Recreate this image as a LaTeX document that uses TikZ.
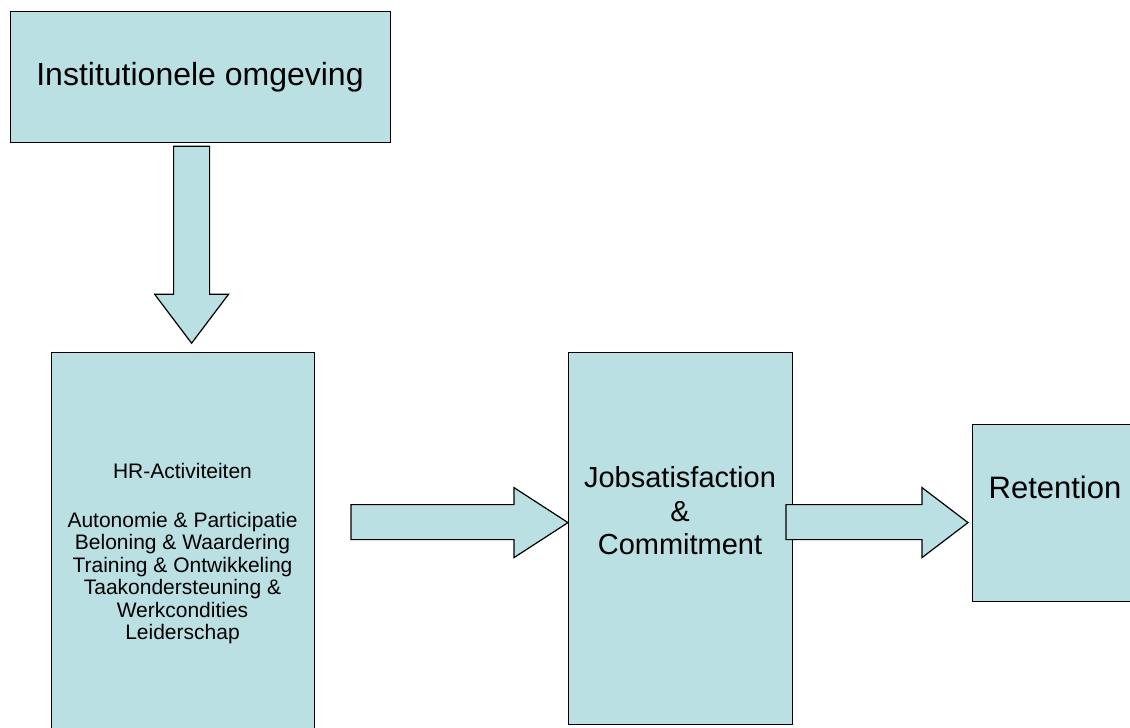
\documentclass[tikz,border=0pt]{standalone}
\usepackage{fontspec}
\setmainfont{Liberation Sans}
\definecolor{boxfill}{RGB}{186,224,227}
\begin{document}
\begin{tikzpicture}[x=1pt,y=-1pt,
  box/.style={draw=black, fill=boxfill, line width=1.2pt, inner sep=0pt, anchor=north west},
  blockarrow/.style={draw=black, fill=boxfill, line width=1.2pt, line join=miter},
  txt/.style={inner sep=0pt, align=center, text=black}]
\useasboundingbox (0,0) rectangle (1130,728);
\clip (0,0) rectangle (1130,728);
% boxes
\node[box, minimum width=380pt, minimum height=131pt] (inst) at (10,11) {};
\node[box, minimum width=263pt, minimum height=400pt] (hr) at (51,352) {};
\node[box, minimum width=224pt, minimum height=372pt] (job) at (568,352) {};
\node[box, minimum width=180pt, minimum height=177pt] (ret) at (972,424) {};
% texts
\node[txt, font=\fontsize{32}{38}\selectfont, anchor=base] (insttext) at (200,85) {Institutionele omgeving};
\node[txt, font=\fontsize{21}{22.5}\selectfont] (hrtext) at (182.5,553.7)
  {HR-Activiteiten\\[26.5pt]Autonomie \& Participatie\\Beloning \& Waardering\\Training \& Ontwikkeling\\Taakondersteuning \&\\Werkcondities\\Leiderschap};
\node[txt, font=\fontsize{29}{33.5}\selectfont] (jobtext) at (680,511) {Jobsatisfaction\\\&\\Commitment};
\node[txt, font=\fontsize{31}{36}\selectfont, anchor=base] (rettext) at (1055,498) {Retention};
% block arrows
\coordinate (d0) at ([xshift=-9pt,yshift=-3pt]inst.south);
\draw[blockarrow] (d0) ++(-18,0) -- ++(36,0) -- ++(0,148) -- ++(19,0) -- ++(-37,49) -- ++(-37,-49) -- ++(19,0) -- cycle;
\coordinate (t1) at ([yshift=16pt]job.west);
\draw[blockarrow] (t1) -- ++(-54,-35) -- ++(0,17) -- ++(-163,0) -- ++(0,35) -- ++(163,0) -- ++(0,18) -- cycle;
\coordinate (t2) at ([xshift=-4pt]ret.west |- t1);
\draw[blockarrow] (t2) -- ++(-46,-35) -- ++(0,17) -- ++(-136,0) -- ++(0,35) -- ++(136,0) -- ++(0,18) -- cycle;
\end{tikzpicture}
\end{document}
